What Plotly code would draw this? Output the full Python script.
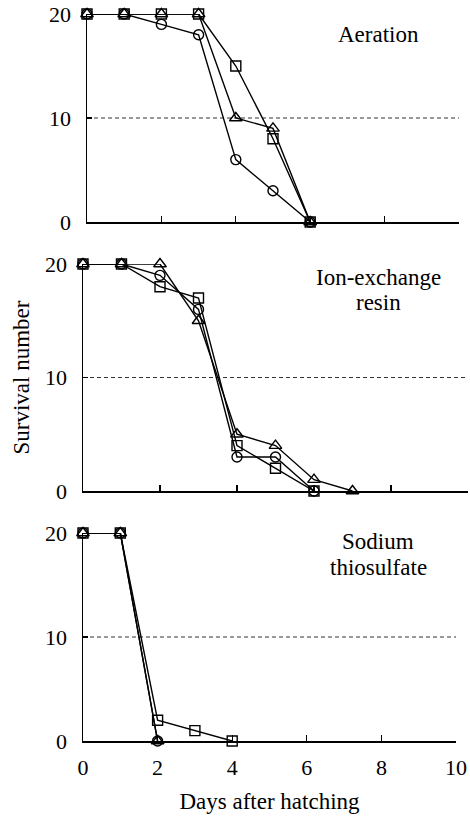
import plotly.graph_objects as go

# ---- data ----
days = [0, 1, 2, 3, 4, 5, 6, 7]

aer_circle = [20, 20, 19, 18, 6, 3, 0]
aer_triangle = [20, 20, 20, 20, 10, 9, 0]
aer_square = [20, 20, 20, 20, 15, 8, 0]

ion_circle = [20, 20, 19, 16, 3, 3, 0]
ion_triangle = [20, 20, 20, 15, 5, 4, 1, 0]
ion_square = [20, 20, 18, 17, 4, 2, 0]

sod_circle = [20, 20, 0]
sod_triangle = [20, 20, 0]
sod_square = [20, 20, 2, 1, 0]

panel_labels = [["Aeration"], ["Ion-exchange", "resin"], ["Sodium", "thiosulfate"]]
x_ticks = [0, 2, 4, 6, 8, 10]
y_ticks = [0, 10, 20]
half_line = 10

W, H = 470, 816
FONT = "Liberation Serif"

def px_x(p):
    return p / W

def px_y(p):
    return 1 - p / H

# pixel geometry of each panel: (x_left, x_right, y_zero, y_twenty)
panels = [
    (87, 459, 222, 14),
    (83, 468, 491, 264),
    (83, 456, 741, 533),
]

series = [
    [(aer_circle, "circle-open"), (aer_triangle, "triangle-up-open"), (aer_square, "square-open")],
    [(ion_circle, "circle-open"), (ion_triangle, "triangle-up-open"), (ion_square, "square-open")],
    [(sod_circle, "circle-open"), (sod_triangle, "triangle-up-open"), (sod_square, "square-open")],
]

fig = go.Figure()

for i, panel in enumerate(series):
    sfx = "" if i == 0 else str(i + 1)
    for vals, sym in panel:
        fig.add_trace(go.Scatter(
            x=days[:len(vals)], y=vals,
            xaxis="x" + sfx, yaxis="y" + sfx,
            mode="lines+markers",
            line=dict(color="black", width=1.4),
            marker=dict(symbol=sym, size=10 if sym != "triangle-up-open" else 11,
                        color="black", line=dict(width=1.4)),
            cliponaxis=False,
            showlegend=False,
        ))

layout = dict(
    width=W, height=H,
    margin=dict(l=0, r=0, t=0, b=0),
    paper_bgcolor="white", plot_bgcolor="white",
    font=dict(family=FONT, size=22, color="black"),
    showlegend=False,
    shapes=[], annotations=[],
)

for i, (xl, xr, y0, y20) in enumerate(panels):
    sfx = "" if i == 0 else str(i + 1)
    last = i == len(panels) - 1
    layout["xaxis" + sfx] = dict(
        domain=[px_x(xl), px_x(xr)], range=[0, 10], anchor="y" + sfx,
        showline=True, linecolor="black", linewidth=1.5,
        ticks="inside", ticklen=6, tickwidth=1.3, tickcolor="black",
        tickvals=x_ticks, showticklabels=last,
        ticklabelstandoff=6, ticklabeloverflow="allow",
        showgrid=False, zeroline=False, automargin=False,
        tickfont=dict(family=FONT, size=22),
        title=dict(text="Days after hatching" if last else "",
                   font=dict(family=FONT, size=23), standoff=14),
    )
    layout["yaxis" + sfx] = dict(
        domain=[px_y(y0), px_y(y20)], range=[0, 20], anchor="x" + sfx,
        showline=True, linecolor="black", linewidth=1.5,
        ticks="inside", ticklen=5, tickwidth=1.3, tickcolor="black",
        tickvals=y_ticks, showticklabels=True,
        ticklabelstandoff=10,
        showgrid=False, zeroline=False, automargin=False,
        tickfont=dict(family=FONT, size=22),
        title=dict(text="Survival number" if i == 1 else "",
                   font=dict(family=FONT, size=23), standoff=9),
    )
    layout["shapes"].append(dict(
        type="line", xref="x" + sfx, yref="y" + sfx,
        x0=0, x1=10, y0=half_line, y1=half_line,
        line=dict(color="#333333", width=1, dash="4px,3px"), layer="below",
    ))

# panel labels (centres in pixels)
label_pos = [[(378, 35)], [(378, 277), (378, 302)], [(378, 541), (378, 567)]]
for lines, poss in zip(panel_labels, label_pos):
    for txt, (cx, cy) in zip(lines, poss):
        layout["annotations"].append(dict(
            text=txt, xref="paper", yref="paper",
            x=px_x(cx), y=px_y(cy), xanchor="center", yanchor="middle",
            showarrow=False, font=dict(family=FONT, size=23, color="black"),
        ))

fig.update_layout(**layout)
fig.write_html(
    "out.html",
    config={"displayModeBar": False, "staticPlot": True},
    post_script="document.body.style.margin='0';document.body.style.overflow='hidden';",
)
